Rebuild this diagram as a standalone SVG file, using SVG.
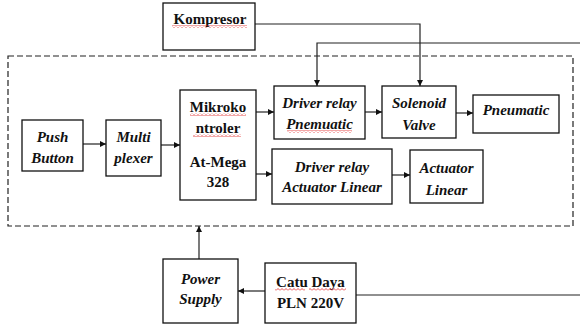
<svg xmlns="http://www.w3.org/2000/svg" width="580" height="325" viewBox="0 0 580 325">
<defs>
<marker id="arr" viewBox="0 0 10 10" refX="10" refY="5" markerWidth="6" markerHeight="6" orient="auto" markerUnits="userSpaceOnUse">
<path d="M0,0 L10,5 L0,10 z" fill="#111"/>
</marker>
<pattern id="sq" patternUnits="userSpaceOnUse" width="4" height="3">
<path d="M0,2.5 L2,0.5 L4,2.5" fill="none" stroke="#e02020" stroke-width="0.8"/>
</pattern>
</defs>
<style>
.box{fill:#fff;stroke:#111;stroke-width:1.3}
.lbl{font-family:'Liberation Serif',serif;font-size:15px;font-weight:bold;fill:#111;text-anchor:middle}
.ital{font-style:italic}
.ln{fill:none;stroke:#222;stroke-width:1.2}
.dash{fill:none;stroke:#222;stroke-width:1.2;stroke-dasharray:6 3}
.sq{fill:url(#sq)}
</style>
<rect class="dash" x="8" y="56" width="565" height="170"/>
<g id="connectors">
<path class="ln" d="M255,24 H420 V86" marker-end="url(#arr)"/>
<path class="ln" d="M580,43 H317 V86" marker-end="url(#arr)"/>
<path class="ln" d="M83,144 H106" marker-end="url(#arr)"/>
<path class="ln" d="M161,145 H180" marker-end="url(#arr)"/>
<path class="ln" d="M256,112 H274" marker-end="url(#arr)"/>
<path class="ln" d="M256,174 H272" marker-end="url(#arr)"/>
<path class="ln" d="M365,112 H382" marker-end="url(#arr)"/>
<path class="ln" d="M456,113 H473" marker-end="url(#arr)"/>
<path class="ln" d="M392,175 H410" marker-end="url(#arr)"/>
<path class="ln" d="M199,259 V226" marker-end="url(#arr)"/>
<path class="ln" d="M265,291 H238" marker-end="url(#arr)"/>
<path class="ln" d="M356,295 H580"/>
</g>
<g id="kompresor">
<rect class="box" x="163" y="3" width="92" height="47"/>
<text class="lbl" x="210" y="24">Kompresor</text>
<rect class="sq" x="172" y="25" width="75" height="3"/>
</g>
<g id="push-button">
<rect class="box" x="22" y="120" width="61" height="51"/>
<text class="lbl ital" x="52.5" y="142">Push</text>
<text class="lbl ital" x="52.5" y="163">Button</text>
</g>
<g id="multiplexer">
<rect class="box" x="106" y="120" width="55" height="56"/>
<text class="lbl ital" x="133.5" y="142">Multi</text>
<text class="lbl ital" x="133.5" y="163">plexer</text>
</g>
<g id="mikrokontroler">
<rect class="box" x="180" y="90" width="76" height="110"/>
<text class="lbl" x="218" y="112">Mikroko</text>
<rect class="sq" x="190" y="113" width="56" height="3"/>
<text class="lbl" x="218" y="133">ntroler</text>
<rect class="sq" x="193" y="134" width="48" height="3"/>
<text class="lbl" x="218" y="167">At-Mega</text>
<text class="lbl" x="218" y="187">328</text>
</g>
<g id="driver-pnemuatic">
<rect class="box" x="274" y="86" width="91" height="53"/>
<text class="lbl ital" x="319.5" y="108">Driver relay</text>
<text class="lbl ital" x="319.5" y="129">Pnemuatic</text>
<rect class="sq" x="287" y="130" width="65" height="3"/>
</g>
<g id="solenoid-valve">
<rect class="box" x="382" y="86" width="74" height="52"/>
<text class="lbl ital" x="419" y="108">Solenoid</text>
<text class="lbl ital" x="419" y="130">Valve</text>
</g>
<g id="pneumatic">
<rect class="box" x="473" y="95" width="86" height="38"/>
<text class="lbl ital" x="516" y="115">Pneumatic</text>
</g>
<g id="driver-actuator">
<rect class="box" x="272" y="149" width="120" height="55"/>
<text class="lbl ital" x="332" y="172">Driver relay</text>
<text class="lbl ital" x="332" y="192">Actuator Linear</text>
</g>
<g id="actuator-linear">
<rect class="box" x="410" y="150" width="73" height="53"/>
<text class="lbl ital" x="446.5" y="173">Actuator</text>
<text class="lbl ital" x="446.5" y="195">Linear</text>
</g>
<g id="power-supply">
<rect class="box" x="163" y="259" width="75" height="64"/>
<text class="lbl ital" x="200.5" y="284">Power</text>
<text class="lbl ital" x="200.5" y="304">Supply</text>
</g>
<g id="catu-daya">
<rect class="box" x="265" y="263" width="91" height="60"/>
<text class="lbl" x="310.5" y="287">Catu Daya</text>
<rect class="sq" x="275" y="288" width="30" height="3"/>
<rect class="sq" x="309" y="288" width="37" height="3"/>
<text class="lbl" x="310.5" y="308">PLN 220V</text>
</g>
</svg>
